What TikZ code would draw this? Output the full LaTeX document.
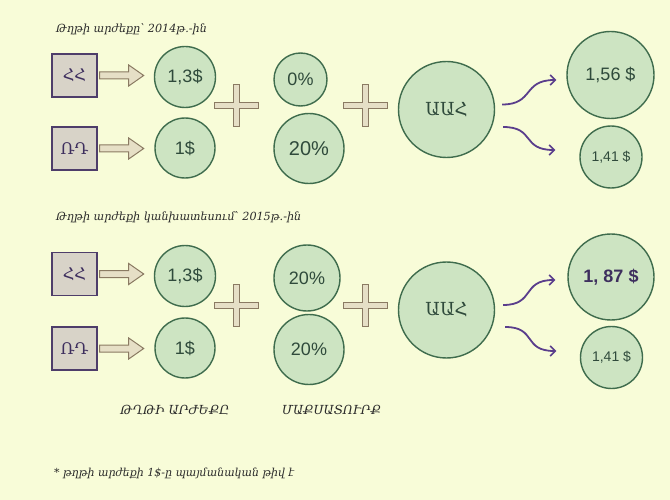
\documentclass[tikz,border=0pt]{standalone}
\usepackage{fontspec}
\setmainfont{Liberation Sans}
\newfontfamily\armsans{DejaVu Sans}
\newfontfamily\armserif{DejaVu Serif}
\usetikzlibrary{arrows.meta,calc}
\definecolor{bgc}{HTML}{F8FCD8}
\definecolor{circfill}{HTML}{CDE4C2}
\definecolor{circline}{HTML}{3F6C4D}
\definecolor{circtext}{HTML}{2F4A3B}
\definecolor{boxfill}{HTML}{D8D3C8}
\definecolor{boxline}{HTML}{4E3D6A}
\definecolor{boxtext}{HTML}{3E2F5E}
\definecolor{barfill}{HTML}{E6DFC6}
\definecolor{barline}{HTML}{8A7A62}
\definecolor{curvec}{HTML}{5A3E8C}
\definecolor{labtext}{HTML}{2A2A2A}
\newcommand\blockarr[1]{\draw[barr] ($(#1.east)+(2,-3.5)$) -- ++(29,0) -- ++(0,-7) -- ++(15,10.5) -- ++(-15,10.5) -- ++(0,-7) -- ++(-29,0) -- cycle;}
\newcommand\plussign[1]{\draw[plusst] ($(#1)+(-22,-3)$) -- ++(19,0) -- ++(0,-18) -- ++(6,0) -- ++(0,18) -- ++(19,0) -- ++(0,6) -- ++(-19,0) -- ++(0,18) -- ++(-6,0) -- ++(0,-18) -- ++(-19,0) -- cycle;}
\tikzset{
  circ/.style={circle, draw=circline, fill=circfill, line width=1.4pt, inner sep=0pt, minimum size=#1, text=circtext, font=\fontsize{18}{20}\selectfont},
  ctrybox/.style={rectangle, draw=boxline, fill=boxfill, line width=1.4pt, minimum width=45pt, minimum height=43pt, inner sep=0pt, text=boxtext, font=\armserif\fontsize{16}{18}\selectfont},
  barr/.style={draw=barline, fill=barfill, line width=1pt, line join=miter},
  plusst/.style={draw=barline, fill=barfill, line width=1pt},
  curvy/.style={draw=curvec, line width=1.8pt, -{Straight Barb[length=5pt,width=10pt,line width=1.6pt]}},
  ttl/.style={anchor=base west, inner sep=0pt, text=labtext, font=\armserif\itshape\fontsize{11.2}{13}\selectfont},
  caplabel/.style={anchor=center, inner sep=0pt, text=labtext, font=\armserif\itshape\fontsize{12.5}{14}\selectfont},
  vatlab/.style={font=\armserif\fontsize{18}{20}\selectfont}
}
\begin{document}
\begin{tikzpicture}[x=1pt,y=-1pt]
\fill[bgc] (0,0) rectangle (670,500);
\useasboundingbox (0,0) rectangle (670,500);

% ---------- top panel ----------
\node[ttl] (t1) at (56,33) {Թղթի արժեքը՝ 2014թ.-ին};
\node[ctrybox] (hh1) at (74.5,75.5) {ՀՀ};
\node[ctrybox] (rd1) at (74.5,148.5) {ՌԴ};
\node[circ=61pt] (c13a) at (185,77) {1,3\$};
\node[circ=60pt] (c1a) at (185,148) {1\$};
\node[circ=53pt] (c0a) at (300.5,79.5) {0\%};
\node[circ=70pt, font=\fontsize{20}{22}\selectfont] (c20a) at (309,148.5) {20\%};
\node[circ=96pt, vatlab] (vat1) at (446.5,109.5) {ԱԱՀ};
\node[circ=87pt] (r1a) at (610.5,75) {1,56 \$};
\node[circ=62pt, font=\fontsize{14}{16}\selectfont] (r2a) at (611,157) {1,41 \$};
\coordinate (p1a) at (236,106);
\coordinate (p2a) at (365.5,106);
\blockarr{hh1}
\blockarr{rd1}
\plussign{p1a}
\plussign{p2a}
\coordinate (s1a) at ($(vat1.east)+(7,-5)$);
\coordinate (e1a) at ($(r1a.west)+(-10,5)$);
\coordinate (s2a) at ($(vat1.east)+(8,17.5)$);
\coordinate (e2a) at ($(r2a.west)+(-24,-7)$);
\draw[curvy] (s1a) .. controls ($(s1a)+(32,0)$) and ($(e1a)+(-34,0)$) .. (e1a);
\draw[curvy] (s2a) .. controls ($(s2a)+(32,0)$) and ($(e2a)+(-34,0)$) .. (e2a);

% ---------- bottom panel ----------
\node[ttl] (t2) at (56,221) {Թղթի արժեքի կանխատեսում՝ 2015թ.-ին};
\node[ctrybox] (hh2) at (74.5,274) {ՀՀ};
\node[ctrybox] (rd2) at (74.5,348.5) {ՌԴ};
\node[circ=61pt] (c13b) at (185,276) {1,3\$};
\node[circ=60pt] (c1b) at (185,348) {1\$};
\node[circ=66pt] (c20b) at (307,278) {20\%};
\node[circ=70pt] (c20c) at (309,349.5) {20\%};
\node[circ=96pt, vatlab] (vat2) at (446.5,310) {ԱԱՀ};
\node[circ=86pt, font=\bfseries\fontsize{18}{20}\selectfont, text=boxtext] (r1b) at (611,277) {1, 87 \$};
\node[circ=62pt, font=\fontsize{14}{16}\selectfont] (r2b) at (611.5,357.5) {1,41 \$};
\coordinate (p1b) at (236,305);
\coordinate (p2b) at (365.5,305);
\blockarr{hh2}
\blockarr{rd2}
\plussign{p1b}
\plussign{p2b}
\coordinate (s1b) at ($(vat2.east)+(8,-5)$);
\coordinate (e1b) at ($(r1b.west)+(-12,3)$);
\coordinate (s2b) at ($(vat2.east)+(10,17)$);
\coordinate (e2b) at ($(r2b.west)+(-23.5,-6.5)$);
\draw[curvy] (s1b) .. controls ($(s1b)+(32,0)$) and ($(e1b)+(-34,0)$) .. (e1b);
\draw[curvy] (s2b) .. controls ($(s2b)+(32,0)$) and ($(e2b)+(-34,0)$) .. (e2b);

% ---------- labels ----------
\node[caplabel] (lab1) at (175,410) {ԹՂԹԻ ԱՐԺԵՔԸ};
\node[caplabel] (lab2) at (331.5,410) {ՄԱՔՍԱՏՈՒՐՔ};
\node[ttl, font=\armserif\itshape\fontsize{11}{13}\selectfont] (foot) at (54,476) {* թղթի արժեքի 1\$-ը պայմանական թիվ է};
\end{tikzpicture}
\end{document}
